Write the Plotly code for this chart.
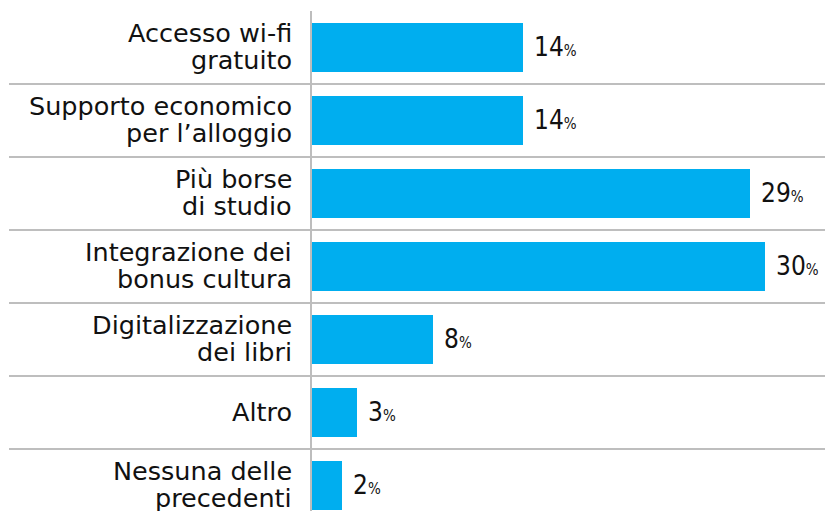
import plotly.graph_objects as go

categories = [
    "Accesso wi-fi\ngratuito",
    "Supporto economico\nper l’alloggio",
    "Più borse\ndi studio",
    "Integrazione dei\nbonus cultura",
    "Digitalizzazione\ndei libri",
    "Altro",
    "Nessuna delle\nprecedenti",
]
values = [14, 14, 29, 30, 8, 3, 2]

# page body has an 8px default margin; compensate so the page matches 833x511
OFF = 8
W, H = 833 - OFF, 511 - OFF
ML, MT = 312 - OFF, 11 - OFF
PITCH = 73.0
plot_w = W - ML
plot_h = H - MT
px_per_unit = 15.1

ids = list(range(len(categories)))

fig = go.Figure()
fig.add_trace(go.Bar(
    x=values, y=ids, orientation="h",
    marker=dict(color="#00AEEF", line=dict(width=0)),
    width=0.66, hoverinfo="skip",
))

annotations = []
label_font = dict(family="DejaVu Sans", size=25.5, color="#111111")
LH = 27.5
for i, cat in enumerate(categories):
    lines = cat.split("\n")
    n = len(lines)
    for j, line in enumerate(lines):
        annotations.append(dict(
            x=0, xref="paper", y=i, yref="y",
            text=line, showarrow=False, xanchor="right", yanchor="middle",
            xshift=-18, yshift=((n - 1) / 2 - j) * LH + 1,
            font=label_font,
        ))
    annotations.append(dict(
        x=values[i], xref="x", y=i, yref="y",
        text=f"{values[i]}<span style='font-size:15px'>%</span>",
        showarrow=False, xanchor="left", yanchor="middle",
        xshift=9, yshift=1,
        font=dict(family="Liberation Sans Narrow, Arial Narrow, DejaVu Sans Condensed, sans-serif",
                  size=26, color="#111111"),
    ))

shapes = []
for i in range(len(categories) - 1):
    shapes.append(dict(
        type="line", xref="paper", yref="y",
        x0=(9 - OFF - ML) / plot_w, x1=1, y0=i + 0.5, y1=i + 0.5,
        line=dict(color="#a8a8a8", width=1.6), layer="below",
    ))

fig.update_layout(
    width=W, height=H,
    margin=dict(l=ML, r=0, t=MT, b=0, pad=0),
    paper_bgcolor="white", plot_bgcolor="white",
    showlegend=False,
    xaxis=dict(range=[0, plot_w / px_per_unit], visible=False, fixedrange=True),
    yaxis=dict(
        range=[-0.5 + plot_h / PITCH, -0.5],
        showticklabels=False, showgrid=False, zeroline=False,
        showline=True, linecolor="#bdbdbd", linewidth=2,
        fixedrange=True,
    ),
    annotations=annotations,
    shapes=shapes,
    bargap=0,
)

fig.write_html("out.html", config={"displayModeBar": False})
